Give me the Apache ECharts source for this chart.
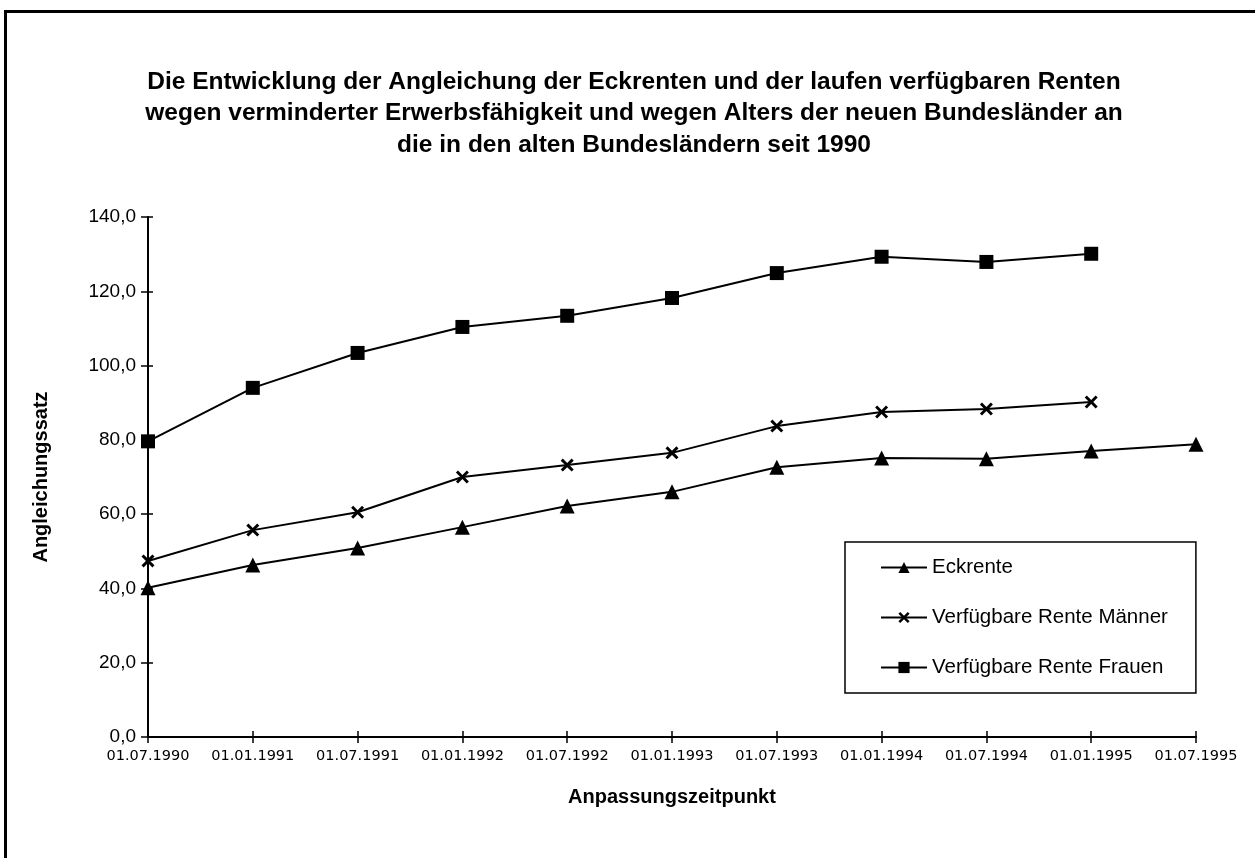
<!DOCTYPE html>
<html>
<head>
<meta charset="utf-8">
<script src="https://cdn.jsdelivr.net/npm/echarts@6/dist/echarts.min.js"></script>
<style>
  html, body { margin: 0; padding: 0; background: #fff; }
  .frame {
    position: absolute; left: 4px; top: 10px; right: 0; bottom: 0;
    border-left: 3px solid #000; border-top: 3px solid #000;
  }
  #chart { position: absolute; left: 0; top: 0; width: 1255px; height: 858px; }
</style>
</head>
<body>
<div class="frame"></div>
<div id="chart"></div>
<script>
  // Anpassungszeitpunkte
  var categories = ['01.07.1990', '01.01.1991', '01.07.1991', '01.01.1992', '01.07.1992',
    '01.01.1993', '01.07.1993', '01.01.1994', '01.07.1994', '01.01.1995', '01.07.1995'];
  var eckrente = [40.2, 46.3, 50.9, 56.5, 62.2, 66.0, 72.6, 75.1, 74.9, 77.0, 78.8];
  var renteMaenner = [47.4, 55.7, 60.5, 70.0, 73.2, 76.5, 83.7, 87.5, 88.3, 90.2, null];
  var renteFrauen = [79.6, 94.0, 103.4, 110.4, 113.4, 118.2, 124.9, 129.3, 127.9, 130.1, null];
  var yMin = 0, yMax = 140, yStep = 20;

  var crossPath = 'path://M0,1.6L1.6,0L5,3.4L8.4,0L10,1.6L6.6,5L10,8.4L8.4,10L5,6.6L1.6,10L0,8.4L3.4,5Z';
  var fmt = function (v) { return v.toFixed(1).replace('.', ','); };

  var chart = echarts.init(document.getElementById('chart'));

  // zweite Achse nur fuer die nach innen zeigenden Ticks
  var baseX = {
    type: 'category', data: categories, boundaryGap: false, position: 'bottom'
  };
  var baseY = { type: 'value', min: yMin, max: yMax, interval: yStep, position: 'left' };

  chart.setOption({
    backgroundColor: 'transparent',
    animation: false,
    title: {
      text: 'Die Entwicklung der Angleichung der Eckrenten und der laufen verfügbaren Renten\n' +
        'wegen verminderter Erwerbsfähigkeit und wegen Alters der neuen Bundesländer an\n' +
        'die in den alten Bundesländern seit 1990',
      left: 629, top: 61,
      textAlign: 'center',
      textStyle: {
        fontFamily: 'Liberation Sans', fontWeight: 'bold', fontSize: 24.5,
        lineHeight: 31.5, color: '#000'
      }
    },
    grid: { left: 148, right: 59, top: 217, bottom: 121 },
    legend: {
      orient: 'vertical', left: 845, top: 542,
      backgroundColor: '#fff', borderColor: '#000', borderWidth: 1.5,
      padding: [15, 28, 15, 35],
      itemWidth: 46, itemHeight: 14, itemGap: 29,
      textStyle: { fontFamily: 'Liberation Sans', fontSize: 20.5, color: '#000' },
      data: ['Eckrente', 'Verfügbare Rente Männer', 'Verfügbare Rente Frauen']
    },
    xAxis: [
      Object.assign({}, baseX, {
        name: 'Anpassungszeitpunkt', nameLocation: 'middle', nameGap: 50,
        nameTextStyle: { fontFamily: 'Liberation Sans', fontWeight: 'bold', fontSize: 20, color: '#000' },
        axisLine: { lineStyle: { color: '#000', width: 2 } },
        axisTick: { show: true, interval: 0, length: 6, lineStyle: { color: '#000', width: 1.5 } },
        axisLabel: { interval: 0, hideOverlap: false, margin: 12, fontFamily: 'DejaVu Sans', fontSize: 14.5, color: '#000' },
        splitLine: { show: false }
      }),
      Object.assign({}, baseX, {
        axisLine: { show: false },
        axisTick: { show: true, interval: 0, inside: true, length: 6, lineStyle: { color: '#000', width: 1.5 } },
        axisLabel: { show: false },
        splitLine: { show: false }
      })
    ],
    yAxis: [
      Object.assign({}, baseY, {
        name: 'Angleichungssatz', nameLocation: 'middle', nameGap: 97, nameRotate: 90,
        nameTextStyle: { fontFamily: 'Liberation Sans', fontWeight: 'bold', fontSize: 20, color: '#000' },
        axisLine: { show: true, lineStyle: { color: '#000', width: 2 } },
        axisTick: { show: true, length: 7, lineStyle: { color: '#000', width: 1.5 } },
        axisLabel: { margin: 12, fontFamily: 'Liberation Sans', fontSize: 19, color: '#000', formatter: fmt },
        splitLine: { show: false }
      }),
      Object.assign({}, baseY, {
        axisLine: { show: false },
        axisTick: { show: true, inside: true, length: 5, lineStyle: { color: '#000', width: 1.5 } },
        axisLabel: { show: false },
        splitLine: { show: false }
      })
    ],
    series: [
      {
        name: 'Eckrente', type: 'line', data: eckrente,
        symbol: 'triangle', symbolSize: 15, showAllSymbol: true,
        lineStyle: { color: '#000', width: 2 }, itemStyle: { color: '#000' }
      },
      {
        name: 'Verfügbare Rente Männer', type: 'line', data: renteMaenner,
        symbol: crossPath, symbolSize: 13, showAllSymbol: true,
        lineStyle: { color: '#000', width: 2 }, itemStyle: { color: '#000' }
      },
      {
        name: 'Verfügbare Rente Frauen', type: 'line', data: renteFrauen,
        symbol: 'rect', symbolSize: 14, showAllSymbol: true,
        lineStyle: { color: '#000', width: 2 }, itemStyle: { color: '#000' }
      }
    ]
  });
</script>
</body>
</html>
